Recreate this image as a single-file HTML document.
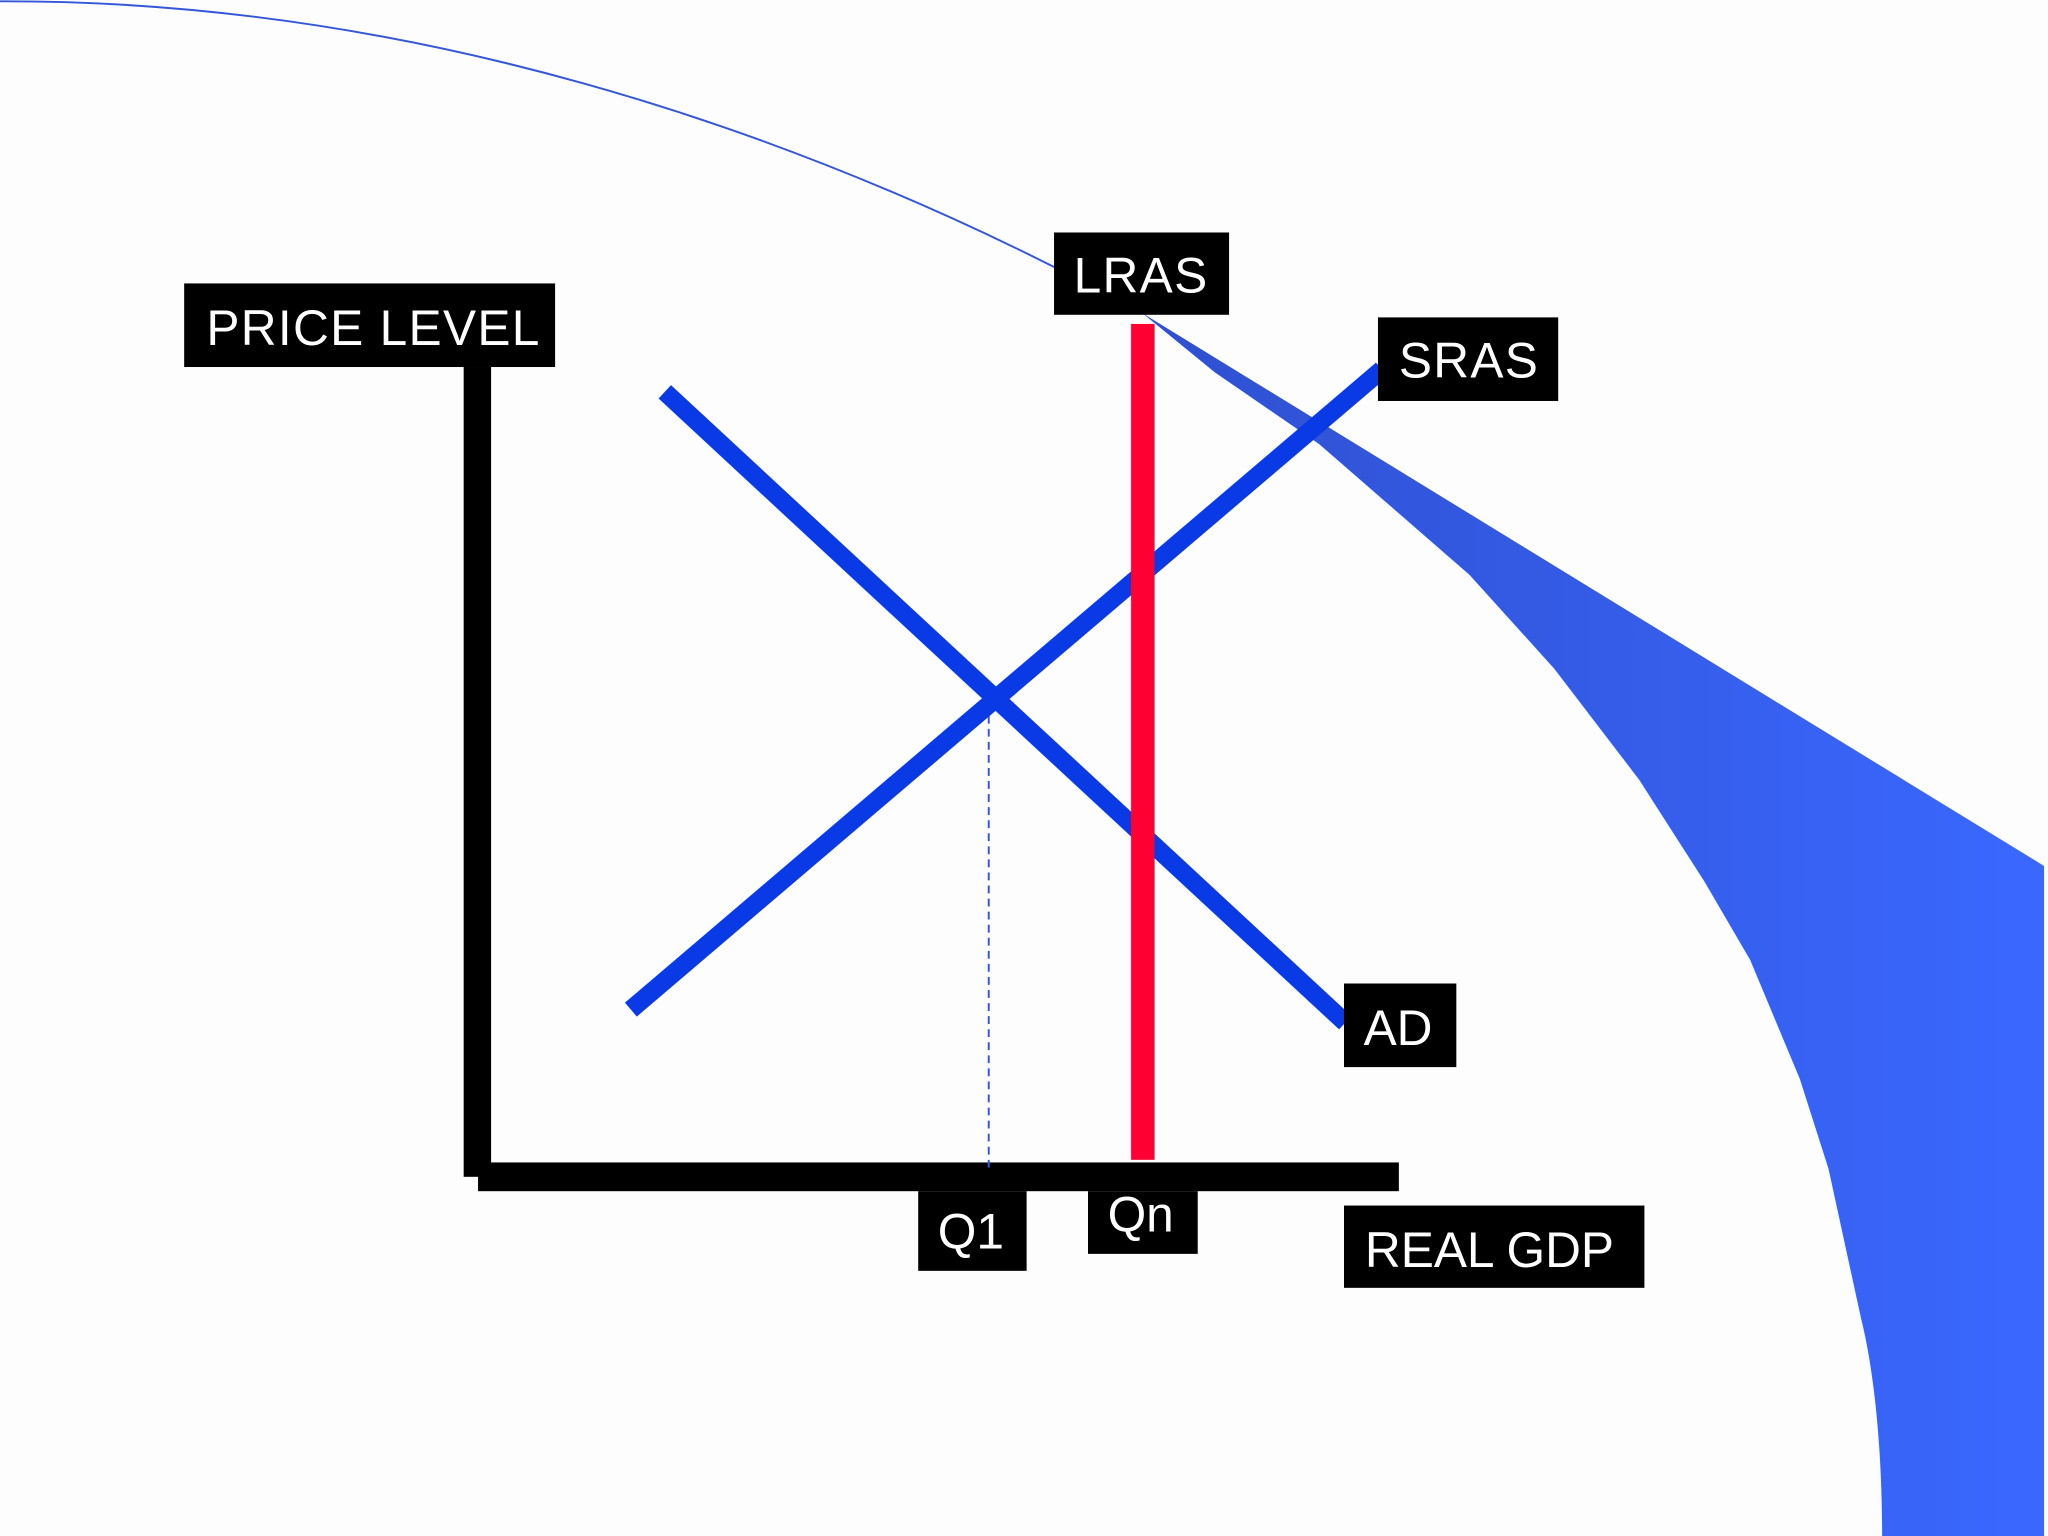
<!DOCTYPE html>
<html><head><meta charset="utf-8"><style>
html,body{margin:0;padding:0;background:#fdfdfd;}
svg{display:block}
text{font-family:"Liberation Sans",sans-serif;fill:#fff}
</style></head><body>
<svg width="2048" height="1536" viewBox="0 0 1568 1176" xmlns="http://www.w3.org/2000/svg">
<defs>
<linearGradient id="g" x1="875" y1="0" x2="1565" y2="0" gradientUnits="userSpaceOnUse">
<stop offset="0" stop-color="#2f4fcf"/><stop offset="1" stop-color="#3a68ff"/>
</linearGradient>
</defs>
<rect width="1568" height="1176" fill="#fdfdfd"/>
<path d="M0,1 C300,0 600,90 875,240" fill="none" stroke="#3456d8" stroke-width="1.5"/>
<path d="M875,240 L1565,663 L1565,1176 L1441,1176 C1441,1110 1435,1050 1425,1010 L1400,895 L1378,826 L1340,735 L1305,675 L1255,597 L1190,512 L1125,440 L1010,340 L930,285 Z" fill="url(#g)"/>
<rect x="355" y="281" width="21" height="620" fill="#000"/>
<rect x="366" y="890" width="705" height="22" fill="#000"/>
<line x1="757" y1="538" x2="757" y2="895" stroke="#3456d8" stroke-width="1.5" stroke-dasharray="6,4"/>
<line x1="509" y1="300" x2="1030" y2="783" stroke="#0a3ae6" stroke-width="14"/>
<line x1="483" y1="773" x2="1058" y2="283" stroke="#0a3ae6" stroke-width="14"/>
<rect x="866" y="248" width="18" height="640" fill="#ff0033"/>
<rect x="141" y="217" width="284" height="64" fill="#000"/>
<text x="158" y="264" font-size="38" letter-spacing="1">PRICE LEVEL</text>
<rect x="807" y="178" width="134" height="63" fill="#000"/>
<text x="822" y="224" font-size="38" letter-spacing="1">LRAS</text>
<rect x="1055" y="243" width="138" height="64" fill="#000"/>
<text x="1071" y="289" font-size="38" letter-spacing="1">SRAS</text>
<rect x="1029" y="753" width="86" height="64" fill="#000"/>
<text x="1044" y="800" font-size="38">AD</text>
<rect x="1029" y="923" width="230" height="63" fill="#000"/>
<text x="1045" y="970" font-size="38">REAL GDP</text>
<rect x="703" y="912" width="83" height="61" fill="#000"/>
<text x="718" y="956" font-size="38">Q1</text>
<rect x="833" y="912" width="84" height="48" fill="#000"/>
<text x="848" y="943" font-size="38">Qn</text>
</svg>
</body></html>
